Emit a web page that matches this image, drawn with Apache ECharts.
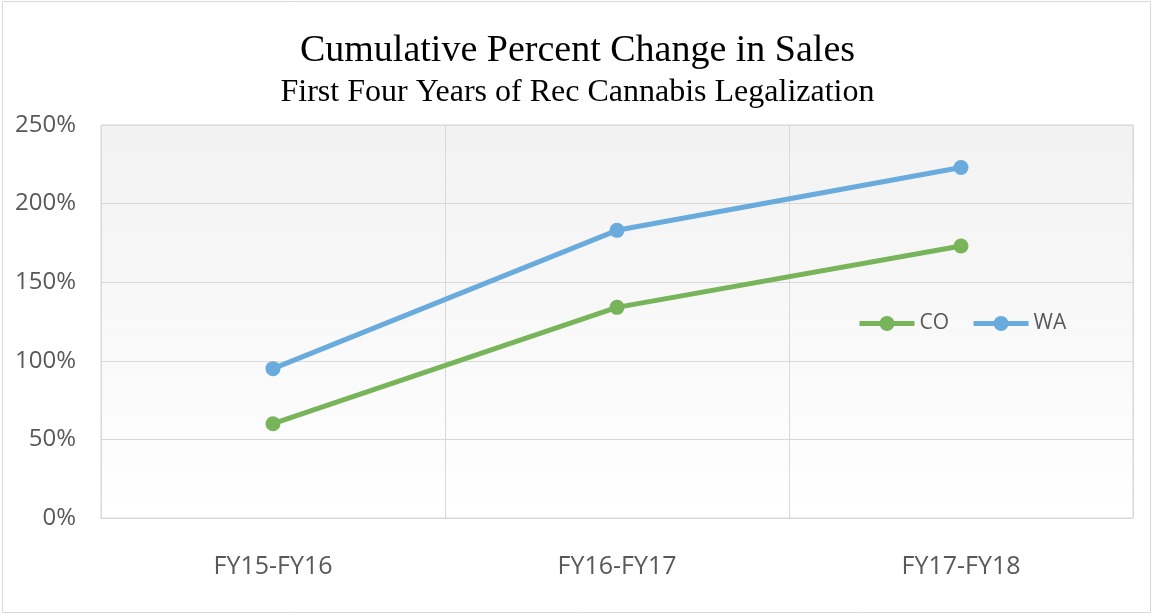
<!DOCTYPE html>
<html style="height: 100%">
<head>
	<meta charset="utf-8">
	<title>Cumulative Percent Change in Sales</title>
</head>
<body style="height: 100%; margin: 0; background: #fff">
<div id="container" style="width: 1155px; height: 615px"></div>

<script src="https://cdn.jsdelivr.net/npm/echarts@6/dist/echarts.min.js"></script>
<script type="text/javascript">
	var categories = ['FY15-FY16', 'FY16-FY17', 'FY17-FY18'];
	var coValues = [60, 134, 173];
	var waValues = [95, 183, 223];
	var yTicks = [0, 50, 100, 150, 200, 250];

	var myChart = echarts.init(document.getElementById('container'), null, { renderer: 'canvas' });

	var coColor = '#78b45a';
	var waColor = '#6aabde';

	var option = {
		animation: false,
		graphic: [
			{
				// outer chart frame
				type: 'rect',
				shape: { x: 2.5, y: 1.5, width: 1148, height: 611 },
				style: { fill: null, stroke: '#d9d9d9', lineWidth: 1 },
				silent: true
			}
		],
		title: [
			{
				text: 'Cumulative Percent Change in Sales',
				left: 'center',
				top: 27,
				textStyle: { fontFamily: 'Liberation Serif', fontSize: 38, fontWeight: 'normal', color: '#000' }
			},
			{
				text: 'First Four Years of Rec Cannabis Legalization',
				left: 'center',
				top: 72,
				textStyle: { fontFamily: 'Liberation Serif', fontSize: 32, fontWeight: 'normal', color: '#000' }
			}
		],
		legend: {
			left: 857,
			top: 313,
			padding: 0,
			itemWidth: 55,
			itemHeight: 19,
			itemGap: 22,
			lineStyle: { width: 5 },
			textStyle: { fontFamily: 'Open Sans', fontSize: 21, color: '#595959' },
			data: ['CO', 'WA']
		},
		grid: {
			left: 101,
			right: 22,
			top: 125,
			bottom: 97,
			show: true,
			borderColor: '#d9d9d9',
			borderWidth: 1,
			backgroundColor: new echarts.graphic.LinearGradient(0, 0, 0, 1, [
				{ offset: 0, color: '#f2f2f2' },
				{ offset: 1, color: '#ffffff' }
			])
		},
		xAxis: {
			type: 'category',
			data: categories,
			boundaryGap: true,
			axisLine: { show: true, lineStyle: { color: '#d9d9d9', width: 1 } },
			axisTick: { show: false },
			splitLine: { show: true, interval: 0, lineStyle: { color: '#d9d9d9', width: 1 } },
			axisLabel: { margin: 36, fontFamily: 'Open Sans', fontSize: 25, color: '#595959' }
		},
		yAxis: {
			type: 'value',
			min: yTicks[0],
			max: yTicks[yTicks.length - 1],
			interval: 50,
			axisLine: { show: false },
			axisTick: { show: false },
			splitLine: { lineStyle: { color: '#d9d9d9', width: 1 } },
			axisLabel: { margin: 25, formatter: '{value}%', fontFamily: 'Open Sans', fontSize: 24, color: '#595959' }
		},
		series: [
			{
				name: 'CO',
				type: 'line',
				data: coValues,
				symbol: 'circle',
				symbolSize: 15,
				lineStyle: { width: 5, color: coColor },
				itemStyle: { color: coColor }
			},
			{
				name: 'WA',
				type: 'line',
				data: waValues,
				symbol: 'circle',
				symbolSize: 15,
				lineStyle: { width: 5, color: waColor },
				itemStyle: { color: waColor }
			}
		]
	};

	myChart.setOption(option);
	window.addEventListener('resize', myChart.resize);
</script>
</body>
</html>
